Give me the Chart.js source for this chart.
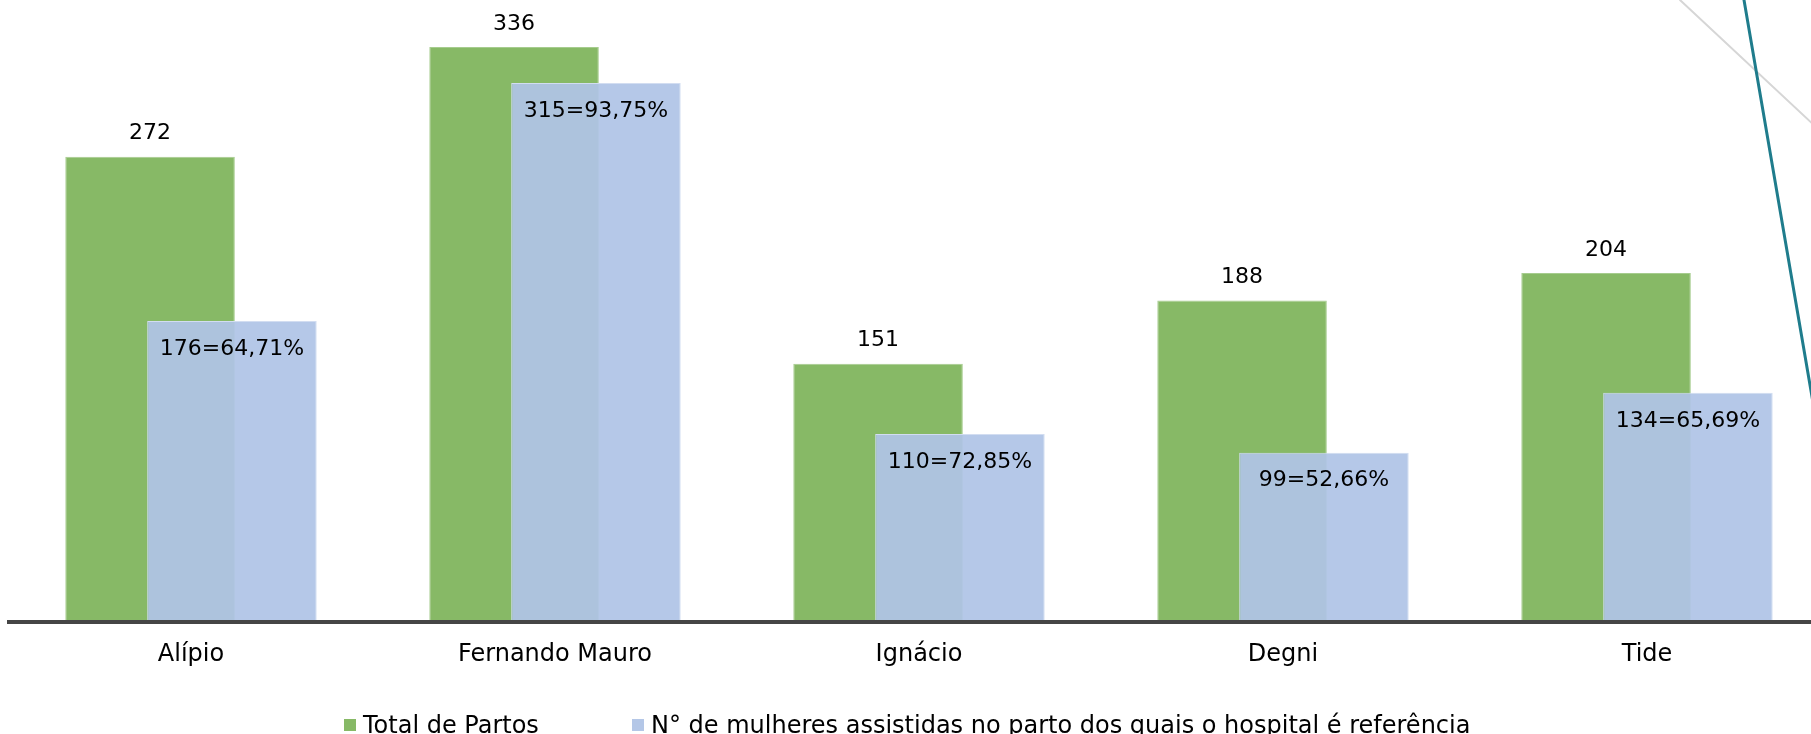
<!DOCTYPE html>
<html lang="pt">
<head>
<meta charset="utf-8">
<title>Partos por hospital</title>
<script src="https://cdn.jsdelivr.net/npm/chart.js@4.4.1/dist/chart.umd.min.js"></script>
<style>
    html, body { margin: 0; padding: 0; background: #fff; overflow: hidden; }
    #wrap { position: relative; width: 1830px; height: 734px; }
    #legend {
        position: absolute; left: 344px; top: 713px;
        display: flex; align-items: center;
        font-family: "DejaVu Sans", sans-serif; font-size: 24px; line-height: 24px; color: #000;
    }
    .legend-item { display: flex; align-items: center; white-space: nowrap; }
    .legend-item:first-child { width: 288px; }
    .legend-box { width: 12px; height: 12px; margin-right: 7px; }
</style>
</head>
<body>
<div id="wrap">
    <canvas id="chart"></canvas>
    <div id="legend"></div>
</div>
<script>
// Data
const hospitals = ['Alípio', 'Fernando Mauro', 'Ignácio', 'Degni', 'Tide'];
const totalPartos = [272, 336, 151, 188, 204];
const mulheresReferencia = [176, 315, 110, 99, 134];
const seriesNames = ['Total de Partos', 'N° de mulheres assistidas no parto dos quais o hospital é referência'];

// "176=64,71%" style labels for the blue bars
const refLabels = mulheresReferencia.map((v, i) =>
    `${v}=${(v / totalPartos[i] * 100).toFixed(2).replace('.', ',')}%`);

const GREEN = '#87b966';
const BLUE = 'rgba(175, 196, 230, 0.93)';
const BLUE_SWATCH = '#b4c7e7';

Chart.defaults.font.family = '"DejaVu Sans", sans-serif';
Chart.defaults.color = '#000';

// Blue bars sit on top of the green ones, then the value labels are written
const barOverlay = {
    id: 'barOverlay',
    beforeDatasetDraw(chart, args) {
        if (args.index === 1) return false; // drawn later, above green
    },
    afterDatasetsDraw(chart) {
        chart.getDatasetMeta(1).controller.draw();

        const ctx = chart.ctx;
        ctx.save();
        ctx.font = '22px "DejaVu Sans", sans-serif';
        ctx.fillStyle = '#000';
        ctx.textAlign = 'center';
        ctx.textBaseline = 'middle';
        chart.getDatasetMeta(0).data.forEach((bar, i) => {
            ctx.fillText(String(totalPartos[i]), bar.x, bar.y - 23);
        });
        chart.getDatasetMeta(1).data.forEach((bar, i) => {
            ctx.fillText(refLabels[i], bar.x, bar.y + 28);
        });
        ctx.restore();
    },
    afterDraw(chart) {
        // decorative slide lines in the top right corner
        const ctx = chart.ctx;
        ctx.save();
        ctx.lineCap = 'round';
        ctx.strokeStyle = '#d6d6d6';
        ctx.lineWidth = 2;
        ctx.beginPath();
        ctx.moveTo(1680, 0);
        ctx.lineTo(1830, 140);
        ctx.stroke();
        ctx.strokeStyle = '#1f7c8c';
        ctx.lineWidth = 3;
        ctx.beginPath();
        ctx.moveTo(1744, 0);
        ctx.lineTo(1828, 490);
        ctx.stroke();
        ctx.restore();
    }
};

const chart = new Chart(document.getElementById('chart'), {
    type: 'bar',
    data: {
        labels: hospitals,
        datasets: [{
            label: seriesNames[0],
            data: totalPartos,
            backgroundColor: GREEN,
            borderColor: '#a6cc8e',
            borderWidth: 1
        }, {
            label: seriesNames[1],
            data: mulheresReferencia,
            backgroundColor: BLUE,
            borderColor: '#d2ddf1',
            borderWidth: 1
        }]
    },
    options: {
        responsive: true,
        maintainAspectRatio: false,
        animation: false,
        categoryPercentage: 0.45,
        barPercentage: 2.07,
        layout: { padding: { left: 9, right: 1, top: 6, bottom: 55 } },
        plugins: {
            legend: { display: false },
            tooltip: { enabled: false }
        },
        scales: {
            x: {
                grid: { display: false },
                border: { display: true, color: '#454545', width: 4, z: 1 },
                ticks: { font: { size: 24 }, padding: 10, maxRotation: 0, autoSkip: false }
            },
            y: { display: false, min: 0, max: 360 }
        }
    },
    plugins: [barOverlay]
});

// HTML legend built from the datasets
const legendEl = document.getElementById('legend');
const swatches = [GREEN, BLUE_SWATCH];
chart.data.datasets.forEach((ds, i) => {
    const item = document.createElement('div');
    item.className = 'legend-item';
    const box = document.createElement('span');
    box.className = 'legend-box';
    box.style.background = swatches[i];
    const text = document.createElement('span');
    text.textContent = ds.label;
    item.appendChild(box);
    item.appendChild(text);
    legendEl.appendChild(item);
});
</script>
</body>
</html>
